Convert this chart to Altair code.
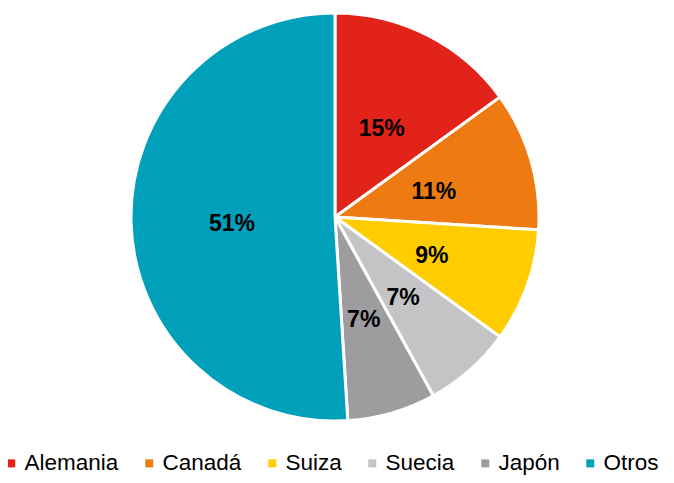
import altair as alt
import pandas as pd

paises = ["Alemania", "Canadá", "Suiza", "Suecia", "Japón", "Otros"]
valores = [15, 11, 9, 7, 7, 51]
colores = ["#E2231A", "#EE7B12", "#FFCC00", "#C4C3C5", "#9D9C9E", "#009FBA"]

df = pd.DataFrame({
    "pais": paises,
    "valor": valores,
    "orden": list(range(len(paises))),
    "etiqueta": [f"{v}%" for v in valores],
})

theta = alt.Theta("valor:Q", stack=True)
color = alt.Color(
    "pais:N",
    scale=alt.Scale(domain=paises, range=colores),
    sort=paises,
    legend=alt.Legend(
        title=None,
        orient="none",
        legendX=-8,
        legendY=444,
        direction="horizontal",
        symbolType="square",
        symbolSize=64,
        symbolStrokeWidth=0,
        labelFont="Liberation Sans",
        labelFontSize=22.5,
        labelColor="#000000",
        labelOffset=2,
        columnPadding=19,
        labelLimit=300,
        padding=0,
    ),
)
order = alt.Order("orden:Q", sort="ascending")

base = alt.Chart(df).encode(
    theta=theta, order=order, x=alt.value(327), y=alt.value(209)
)

pie = base.mark_arc(outerRadius=204, stroke="white", strokeWidth=3).encode(color=color)

labels = base.mark_text(
    radius=103,
    dy=4,
    font="Liberation Sans",
    fontSize=23,
    fontWeight="bold",
    color="#000000",
).encode(text="etiqueta:N")

chart = (
    alt.layer(pie, labels)
    .properties(
        width=658,
        height=467,
        padding=0,
        autosize=alt.AutoSizeParams(type="none"),
    )
    .configure_view(stroke=None)
)

chart.save("out.html", embed_options={"renderer": "svg", "actions": False})
